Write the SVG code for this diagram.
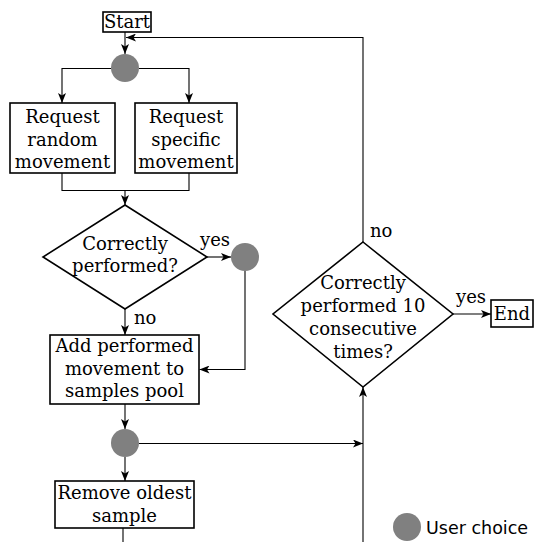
<svg xmlns="http://www.w3.org/2000/svg" width="534" height="542" viewBox="0 0 534 542">
<style>
.box{fill:#fff;stroke:#000;stroke-width:1.6}
.dia{fill:#fff;stroke:#000;stroke-width:1.6}
.dot{fill:#808080}
.t{font-family:"DejaVu Serif",serif;font-size:18px;fill:#000;text-anchor:middle}
.l{font-family:"DejaVu Serif",serif;font-size:18px;fill:#000}
.s{font-family:"DejaVu Sans",sans-serif;font-size:17.5px;fill:#000}
.c{fill:none;stroke:#000;stroke-width:1.1}
</style>
<defs>
<marker id="arr" viewBox="0 0 10 8" refX="10" refY="4" markerWidth="10" markerHeight="8" orient="auto" markerUnits="userSpaceOnUse">
<path d="M0,0 L10,4 L0,8 L2.5,4 z" fill="#000"/>
</marker>
</defs>
<g id="connectors">
<path class="c" d="M125,32 V54" marker-end="url(#arr)"/>
<path class="c" d="M363,242 V37.5 H126" marker-end="url(#arr)"/>
<path class="c" d="M111,68.5 H62 V103" marker-end="url(#arr)"/>
<path class="c" d="M139,68.5 H189 V103" marker-end="url(#arr)"/>
<path class="c" d="M62,173 V190.5 H189 V173"/>
<path class="c" d="M125,190.5 V205" marker-end="url(#arr)"/>
<path class="c" d="M125,309 V335" marker-end="url(#arr)"/>
<path class="c" d="M207,257 H231" marker-end="url(#arr)"/>
<path class="c" d="M245,271 V369.5 H199.5" marker-end="url(#arr)"/>
<path class="c" d="M125,404 V429" marker-end="url(#arr)"/>
<path class="c" d="M139,443.5 H363" marker-end="url(#arr)"/>
<path class="c" d="M125,457 V481" marker-end="url(#arr)"/>
<path class="c" d="M123,528 V542"/>
<path class="c" d="M363,542 V387" marker-end="url(#arr)"/>
<path class="c" d="M453,314 H491" marker-end="url(#arr)"/>
<text class="l" x="200" y="246">yes</text>
<text class="l" x="134" y="324">no</text>
<text class="l" x="370" y="237">no</text>
<text class="l" x="456" y="303">yes</text>
</g>
<g id="start">
<rect class="box" x="103" y="12" width="48" height="20"/>
<text class="t" x="127" y="28">Start</text>
</g>
<g id="choice1">
<circle class="dot" cx="125" cy="68" r="14"/>
</g>
<g id="random">
<rect class="box" x="10" y="103" width="105" height="70"/>
<text class="t" x="62.5" y="123">Request</text>
<text class="t" x="62.5" y="145.5">random</text>
<text class="t" x="62.5" y="168">movement</text>
</g>
<g id="specific">
<rect class="box" x="135" y="103" width="102" height="70"/>
<text class="t" x="186" y="123">Request</text>
<text class="t" x="186" y="145.5">specific</text>
<text class="t" x="186" y="168">movement</text>
</g>
<g id="check1">
<polygon class="dia" points="125,205 207,257 125,309 43,257"/>
<text class="t" x="125" y="250">Correctly</text>
<text class="t" x="125" y="272">performed?</text>
</g>
<g id="choice2">
<circle class="dot" cx="245" cy="257" r="14"/>
</g>
<g id="add">
<rect class="box" x="50" y="335" width="149" height="69"/>
<text class="t" x="124.5" y="352">Add performed</text>
<text class="t" x="124.5" y="374.5">movement to</text>
<text class="t" x="124.5" y="397">samples pool</text>
</g>
<g id="choice3">
<circle class="dot" cx="125" cy="443" r="14"/>
</g>
<g id="remove">
<rect class="box" x="55" y="481" width="139" height="47"/>
<text class="t" x="124.5" y="499">Remove oldest</text>
<text class="t" x="124.5" y="522">sample</text>
</g>
<g id="check2">
<polygon class="dia" points="363,242 453,314 363,387 273,314"/>
<text class="t" x="363" y="289">Correctly</text>
<text class="t" x="363" y="312">performed 10</text>
<text class="t" x="363" y="335">consecutive</text>
<text class="t" x="363" y="358">times?</text>
</g>
<g id="end">
<rect class="box" x="491" y="300" width="42" height="27"/>
<text class="t" x="512" y="320">End</text>
</g>
<g id="legend">
<circle class="dot" cx="407" cy="527" r="14"/>
<text class="s" x="426" y="534">User choice</text>
</g>
</svg>
